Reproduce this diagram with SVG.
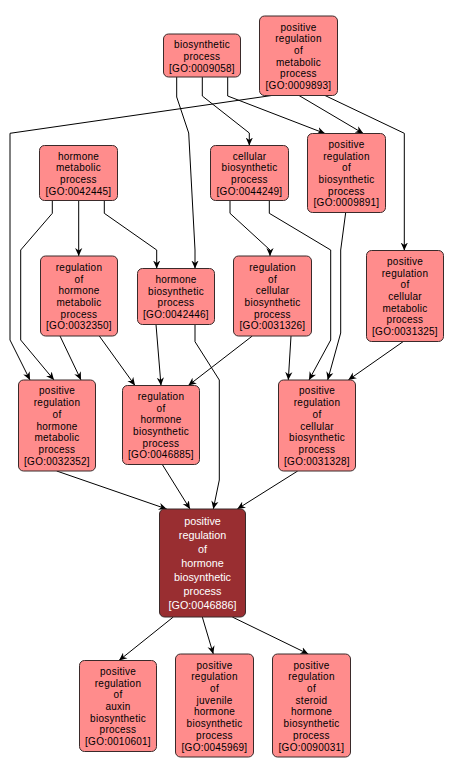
<svg xmlns="http://www.w3.org/2000/svg" width="454" height="774" viewBox="0 0 454 774">
<defs>
<marker id="a" viewBox="0 0 10 10" refX="10" refY="5" markerWidth="8" markerHeight="8" orient="auto" markerUnits="userSpaceOnUse">
<path d="M0,0.5 L10,5 L0,9.5 L3,5 z" fill="#000"/>
</marker>
<style>
.n rect{fill:#FF8C8C;stroke:#3a2a2a;stroke-width:1}
.n text{font-family:"Liberation Sans",Arial,sans-serif;font-size:10px;letter-spacing:0.25px;fill:#000;text-anchor:middle}
.m rect{fill:#992E31;stroke:#3a2a2a;stroke-width:1}
.m text{font-family:"Liberation Sans",Arial,sans-serif;font-size:10.8px;fill:#fff;text-anchor:middle}
#edges path{fill:none;stroke:#000;stroke-width:1;marker-end:url(#a)}
</style>
</defs>
<rect width="454" height="774" fill="#fff"/>
<g id="edges">
<path d="M176.7,77 L176.7,97 L188.7,133 L195,250 L195,268.5"/>
<path d="M202.3,77 L202.3,96 L249.3,133 L249.3,145.5"/>
<path d="M227.7,77 L227.7,96 L325,133.5"/>
<path d="M271.7,95.5 L10,133.3 L10,340 L30,380"/>
<path d="M299,95.5 L363.3,133.5"/>
<path d="M325,95.5 L404.3,133.3 L404.3,250.5"/>
<path d="M52.3,200.5 L52.3,213.3 L20.7,250 L20.7,340 L54,380"/>
<path d="M78.7,200.5 L78.7,256"/>
<path d="M104.3,200.5 L104.3,213.3 L156.7,250 L156.7,268.5"/>
<path d="M230,200.5 L230,213.3 L270,250 L270,256"/>
<path d="M269.3,200.5 L269.3,213.3 L330.7,250 L330.7,340 L309,380"/>
<path d="M345.7,212.5 L340.7,250 L340.7,333 L327.7,380"/>
<path d="M403.3,341.5 L348.3,380"/>
<path d="M60,336 L81,380"/>
<path d="M99.3,336 L135,385.5"/>
<path d="M156,324.5 L161,385.5"/>
<path d="M195,324.5 L195,341.7 L219.3,380 L219.3,480 L213.3,509"/>
<path d="M252.3,336 L188.3,385.5"/>
<path d="M291,336 L288.3,380"/>
<path d="M56.7,471 L166.7,509"/>
<path d="M162.3,464.5 L190,509"/>
<path d="M297.7,471 L237.3,509"/>
<path d="M173.3,617 L119,660.5"/>
<path d="M202.3,617 L213.3,654"/>
<path d="M232.3,617 L308.3,654"/>
</g>
<g id="GO0009058" class="n"><rect x="163.5" y="34" width="77" height="43" rx="5"/>
<text x="202" y="48.3">biosynthetic</text><text x="202" y="60">process</text><text x="202" y="71.7">[GO:0009058]</text></g>
<g id="GO0009893" class="n"><rect x="259.5" y="16" width="78" height="79.5" rx="5"/>
<text x="298.5" y="30.5">positive</text><text x="298.5" y="42.2">regulation</text><text x="298.5" y="53.9">of</text><text x="298.5" y="65.6">metabolic</text><text x="298.5" y="77.3">process</text><text x="298.5" y="89">[GO:0009893]</text></g>
<g id="GO0042445" class="n"><rect x="39.5" y="145.5" width="78" height="55" rx="5"/>
<text x="78.5" y="159.5">hormone</text><text x="78.5" y="171.2">metabolic</text><text x="78.5" y="182.9">process</text><text x="78.5" y="194.6">[GO:0042445]</text></g>
<g id="GO0044249" class="n"><rect x="210.5" y="145.5" width="78" height="55" rx="5"/>
<text x="249.5" y="159.5">cellular</text><text x="249.5" y="171.2">biosynthetic</text><text x="249.5" y="182.9">process</text><text x="249.5" y="194.6">[GO:0044249]</text></g>
<g id="GO0009891" class="n"><rect x="307.5" y="133.5" width="78" height="79" rx="5"/>
<text x="346.5" y="147.8">positive</text><text x="346.5" y="159.5">regulation</text><text x="346.5" y="171.2">of</text><text x="346.5" y="182.9">biosynthetic</text><text x="346.5" y="194.6">process</text><text x="346.5" y="206.3">[GO:0009891]</text></g>
<g id="GO0032350" class="n"><rect x="40.5" y="256" width="77" height="80" rx="5"/>
<text x="79" y="270.8">regulation</text><text x="79" y="282.5">of</text><text x="79" y="294.2">hormone</text><text x="79" y="305.9">metabolic</text><text x="79" y="317.6">process</text><text x="79" y="329.3">[GO:0032350]</text></g>
<g id="GO0042446" class="n"><rect x="137.5" y="268.5" width="77" height="56" rx="5"/>
<text x="176" y="283">hormone</text><text x="176" y="294.7">biosynthetic</text><text x="176" y="306.4">process</text><text x="176" y="318.1">[GO:0042446]</text></g>
<g id="GO0031326" class="n"><rect x="233.5" y="256" width="78" height="80" rx="5"/>
<text x="272.5" y="270.8">regulation</text><text x="272.5" y="282.5">of</text><text x="272.5" y="294.2">cellular</text><text x="272.5" y="305.9">biosynthetic</text><text x="272.5" y="317.6">process</text><text x="272.5" y="329.3">[GO:0031326]</text></g>
<g id="GO0031325" class="n"><rect x="366.5" y="250.5" width="77" height="91" rx="5"/>
<text x="405" y="264.9">positive</text><text x="405" y="276.6">regulation</text><text x="405" y="288.3">of</text><text x="405" y="300">cellular</text><text x="405" y="311.7">metabolic</text><text x="405" y="323.4">process</text><text x="405" y="335.1">[GO:0031325]</text></g>
<g id="GO0032352" class="n"><rect x="18.5" y="380" width="77" height="91" rx="5"/>
<text x="57" y="394.4">positive</text><text x="57" y="406.1">regulation</text><text x="57" y="417.8">of</text><text x="57" y="429.5">hormone</text><text x="57" y="441.2">metabolic</text><text x="57" y="452.9">process</text><text x="57" y="464.6">[GO:0032352]</text></g>
<g id="GO0046885" class="n"><rect x="122.5" y="385.5" width="77" height="79" rx="5"/>
<text x="161" y="399.8">regulation</text><text x="161" y="411.5">of</text><text x="161" y="423.2">hormone</text><text x="161" y="434.9">biosynthetic</text><text x="161" y="446.6">process</text><text x="161" y="458.3">[GO:0046885]</text></g>
<g id="GO0031328" class="n"><rect x="278.5" y="380" width="77" height="91" rx="5"/>
<text x="317" y="394.4">positive</text><text x="317" y="406.1">regulation</text><text x="317" y="417.8">of</text><text x="317" y="429.5">cellular</text><text x="317" y="441.2">biosynthetic</text><text x="317" y="452.9">process</text><text x="317" y="464.6">[GO:0031328]</text></g>
<g id="GO0046886" class="m"><rect x="159.5" y="509" width="86" height="108" rx="5"/>
<text x="202.5" y="525">positive</text><text x="202.5" y="539">regulation</text><text x="202.5" y="553">of</text><text x="202.5" y="567">hormone</text><text x="202.5" y="581">biosynthetic</text><text x="202.5" y="595">process</text><text x="202.5" y="609">[GO:0046886]</text></g>
<g id="GO0010601" class="n"><rect x="79.5" y="660.5" width="77" height="91" rx="5"/>
<text x="118" y="674.9">positive</text><text x="118" y="686.6">regulation</text><text x="118" y="698.3">of</text><text x="118" y="710">auxin</text><text x="118" y="721.7">biosynthetic</text><text x="118" y="733.4">process</text><text x="118" y="745.1">[GO:0010601]</text></g>
<g id="GO0045969" class="n"><rect x="175.5" y="654" width="78" height="103" rx="5"/>
<text x="214.5" y="668.6">positive</text><text x="214.5" y="680.3">regulation</text><text x="214.5" y="692">of</text><text x="214.5" y="703.7">juvenile</text><text x="214.5" y="715.4">hormone</text><text x="214.5" y="727.1">biosynthetic</text><text x="214.5" y="738.8">process</text><text x="214.5" y="750.5">[GO:0045969]</text></g>
<g id="GO0090031" class="n"><rect x="272.5" y="654" width="78" height="103" rx="5"/>
<text x="311.5" y="668.6">positive</text><text x="311.5" y="680.3">regulation</text><text x="311.5" y="692">of</text><text x="311.5" y="703.7">steroid</text><text x="311.5" y="715.4">hormone</text><text x="311.5" y="727.1">biosynthetic</text><text x="311.5" y="738.8">process</text><text x="311.5" y="750.5">[GO:0090031]</text></g>
</svg>
